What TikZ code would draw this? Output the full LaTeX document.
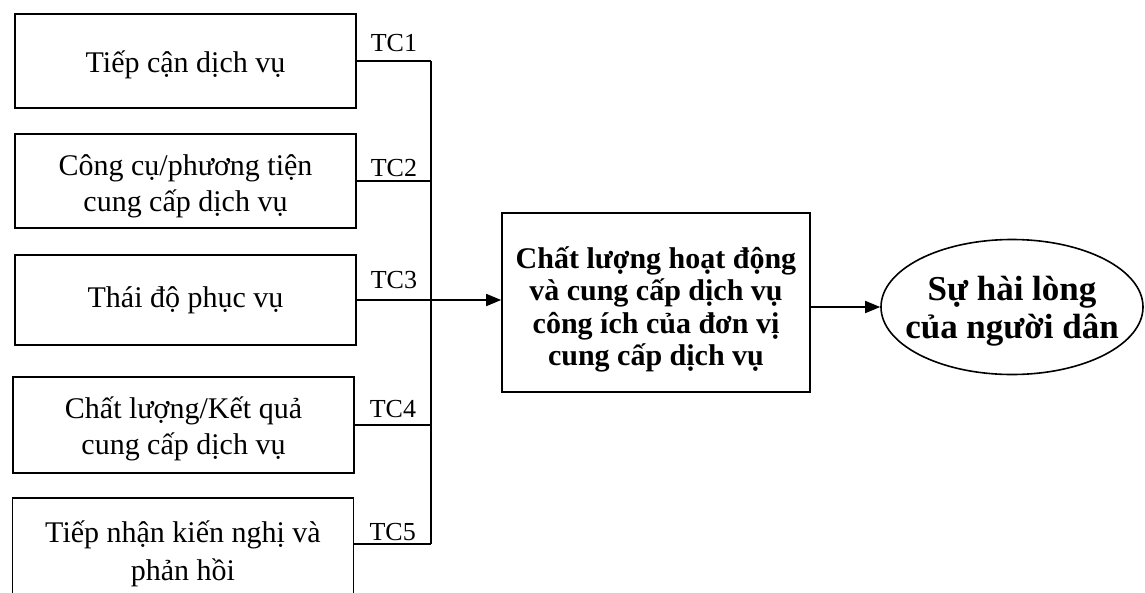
\documentclass[tikz,border=0pt]{standalone}
\usepackage{fontspec}
\setmainfont{Liberation Serif}
\usetikzlibrary{arrows.meta,shapes.geometric,calc}
\newcommand\vfix[3]{\rule{0pt}{#1pt}#3\rule[-#2pt]{0pt}{0pt}}
\begin{document}
\begin{tikzpicture}[x=1pt,y=-1pt,
  box/.style={draw,line width=1.6pt,rectangle,minimum width=341pt,align=center,inner sep=0pt,
    font=\fontsize{30}{36}\selectfont},
  mid/.style={draw,line width=1.6pt,rectangle,minimum width=308pt,minimum height=179pt,align=center,inner sep=0pt,
    font=\fontsize{30}{32.5}\selectfont\bfseries},
  oval/.style={draw,line width=1.6pt,ellipse,minimum width=262pt,minimum height=135pt,inner ysep=0pt,inner xsep=-40pt,align=center,
    font=\fontsize{35}{38}\selectfont\bfseries},
  tc/.style={anchor=base,inner sep=0pt,font=\fontsize{26}{28}\selectfont},
  conn/.style={line width=1.6pt},
  arr/.style={line width=1.6pt,-{Triangle[length=15pt,width=12pt]}}]
\useasboundingbox (0,0) rectangle (1145,592);
\clip (0,0) rectangle (1145,592);
\fill[white] (0,0) rectangle (1145,592);
\node[box,minimum height=94pt] (b1) at (185.5,61) {\vfix{35}{12}{Tiếp cận dịch vụ}};
\node[box,minimum height=94pt] (b2) at (185.5,181) {\vfix{36}{12}{Công cụ/phương tiện\\cung cấp dịch vụ}};
\node[box,minimum height=90pt] (b3) at (185.5,300) {\vfix{32}{18}{Thái độ phục vụ}};
\node[box,minimum height=96pt] (b4) at (183.5,425) {\vfix{36}{14}{Chất lượng/Kết quả\\cung cấp dịch vụ}};
\node[box,minimum height=130pt,anchor=north,font=\fontsize{30}{38}\selectfont] (b5) at (183,497) {\vfix{32}{34}{Tiếp nhận kiến nghị và\\phản hồi}};
\coordinate (c5) at ([yshift=-47pt]b5.north east);
\coordinate (bus) at (431,0);
\node[mid] (m) at (656,302.5) {\vfix{40.5}{12}{Chất lượng hoạt động\\và cung cấp dịch vụ\\công ích của đơn vị\\cung cấp dịch vụ}};
\node[oval] (e) at (1012,307) {\vfix{38}{14}{Sự hài lòng\\của người dân}};
\draw[conn] (b1.east) -- (b1.east -| bus);
\draw[conn] (b2.east) -- (b2.east -| bus);
\draw[conn] (b3.east) -- (b3.east -| bus);
\draw[conn] (b4.east) -- (b4.east -| bus);
\draw[conn] (c5) -- (c5 -| bus);
\draw[conn] (b1.east -| bus) -- (c5 -| bus);
\node[tc,yshift=10pt] at ($(b1.east)!0.5!(b1.east -| bus)$) {TC1};
\node[tc,yshift=5pt] at ($(b2.east)!0.5!(b2.east -| bus)$) {TC2};
\node[tc,yshift=12pt] at ($(b3.east)!0.5!(b3.east -| bus)$) {TC3};
\node[tc,yshift=8pt] at ($(b4.east)!0.5!(b4.east -| bus)$) {TC4};
\node[tc,yshift=4pt] at ($(c5)!0.5!(c5 -| bus)$) {TC5};
\draw[arr] (b3.east -| bus) -- (m.west |- b3.east);
\draw[arr] (m.east |- e.west) -- (e.west);
\end{tikzpicture}
\end{document}
